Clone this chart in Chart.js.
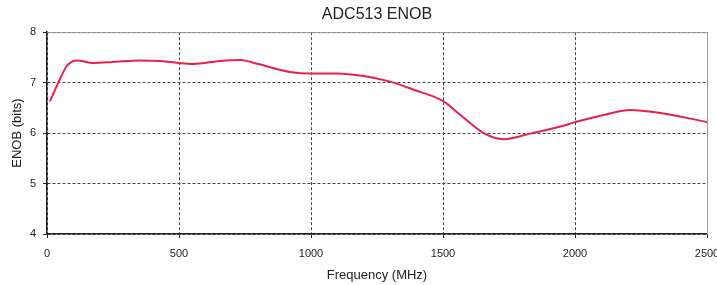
<!DOCTYPE html>
<html>
<head>
<meta charset="utf-8">
<script src="https://cdn.jsdelivr.net/npm/chart.js@4/dist/chart.umd.min.js"></script>
<style>
  html, body { margin: 0; padding: 0; background: #fff; }
  #wrap { width: 717px; height: 285px; }
</style>
</head>
<body>
<div id="wrap"><canvas id="enob-chart"></canvas></div>
<script>
const freqMHz = [11, 43, 75, 113, 176, 250, 353, 430, 498, 555, 656, 732, 800, 921, 997,
    1098, 1199, 1300, 1389, 1502, 1566, 1654, 1730, 1831, 1945, 2002, 2109, 2210, 2311, 2500];
const enobBits = [6.63, 7.0, 7.33, 7.44, 7.39, 7.41, 7.44, 7.43, 7.39, 7.37, 7.43, 7.45, 7.37, 7.21, 7.18,
    7.18, 7.13, 7.02, 6.86, 6.63, 6.36, 6.0, 5.88, 5.99, 6.13, 6.22, 6.36, 6.46, 6.41, 6.22];

const xTicks = [0, 500, 1000, 1500, 2000, 2500];
const yTicks = [4, 5, 6, 7, 8];

const FONT = "'Liberation Sans', Arial, sans-serif";

// light frame on top/right of the plot area
const framePlugin = {
    id: 'frame',
    beforeDatasetsDraw(chart) {
        const { ctx, chartArea: a } = chart;
        ctx.save();
        ctx.strokeStyle = '#9a9a9a';
        ctx.lineWidth = 1;
        ctx.beginPath();
        ctx.moveTo(a.left, a.top + 0.5);
        ctx.lineTo(a.right + 0.5, a.top + 0.5);
        ctx.lineTo(a.right + 0.5, a.bottom);
        ctx.stroke();
        ctx.restore();
    }
};

const points = freqMHz.map((f, i) => ({ x: f, y: enobBits[i] }));

const gridOpts = {
    color: '#444',
    drawTicks: true,
    tickLength: 4,
    tickColor: '#222',
    tickBorderDash: []
};

const chartConfig = {
    type: 'line',
    data: {
        datasets: [{
            label: 'ENOB',
            data: points,
            borderColor: '#e8204f',
            borderWidth: 2,
            pointRadius: 0,
            tension: 0.4,
            cubicInterpolationMode: 'monotone',
            fill: false
        }]
    },
    options: {
        responsive: true,
        maintainAspectRatio: false,
        animation: false,
        layout: { padding: { top: 0, right: 10, bottom: 0, left: 0 } },
        scales: {
            x: {
                type: 'linear',
                min: 0,
                max: 2500,
                afterBuildTicks: scale => { scale.ticks = xTicks.map(v => ({ value: v })); },
                afterFit: scale => { scale.height = 51; scale.paddingLeft = 0; scale.paddingRight = 0; },
                ticks: {
                    color: '#222',
                    font: { family: FONT, size: 11 },
                    padding: 9,
                    maxRotation: 0,
                    callback: v => String(v)
                },
                grid: gridOpts,
                border: { color: '#222', width: 1.5, dash: [3, 2] },
                title: {
                    display: true,
                    text: 'Frequency (MHz)',
                    color: '#222',
                    font: { family: FONT, size: 13 },
                    padding: { top: 0, bottom: 2 }
                }
            },
            y: {
                min: 4,
                max: 8,
                afterBuildTicks: scale => { scale.ticks = yTicks.map(v => ({ value: v })); },
                afterFit: scale => { scale.width = 47; },
                ticks: {
                    color: '#222',
                    font: { family: FONT, size: 11 },
                    padding: 7,
                    callback: v => String(v)
                },
                grid: gridOpts,
                border: { color: '#222', width: 1.5, dash: [3, 2] },
                title: {
                    display: true,
                    text: 'ENOB (bits)',
                    color: '#222',
                    font: { family: FONT, size: 13 },
                    padding: { top: 10, bottom: 0 }
                }
            }
        },
        plugins: {
            legend: { display: false },
            tooltip: { enabled: false },
            title: {
                display: true,
                text: 'ADC513 ENOB',
                fullSize: false,
                color: '#222',
                font: { family: FONT, size: 16, weight: 'normal' },
                padding: { top: 5, bottom: 8 }
            }
        }
    },
    plugins: [framePlugin]
};

const ctx = document.getElementById('enob-chart').getContext('2d');
new Chart(ctx, chartConfig);
</script>
</body>
</html>
